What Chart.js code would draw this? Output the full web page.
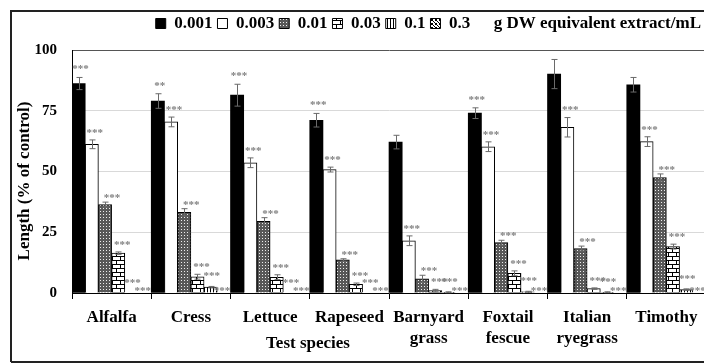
<!DOCTYPE html>
<html>
<head>
<meta charset="utf-8">
<script src="https://cdn.jsdelivr.net/npm/chart.js@4.4.1/dist/chart.umd.min.js"></script>
<style>
  html, body { margin: 0; padding: 0; overflow: hidden; background: #fff; }
  #wrap { position: relative; width: 712px; height: 363px; }
</style>
</head>
<body>
<div id="wrap"><canvas id="grafico"></canvas></div>
<script>
const species = ['Alfalfa', 'Cress', 'Lettuce', 'Rapeseed', ['Barnyard', 'grass'], ['Foxtail', 'fescue'], ['Italian', 'ryegrass'], 'Timothy'];
const doses = ['0.001', '0.003', '0.01', '0.03', '0.1', '0.3'];
const unitText = 'g DW equivalent extract/mL';
const yTicks = [0, 25, 50, 75, 100];

// mean length (% of control) per dose
const len0001 = [86.2, 79.0, 81.4, 71.1, 62.1, 74.0, 90.1, 85.7];
const len0003 = [61.2, 70.4, 53.6, 50.8, 21.5, 60.2, 68.2, 62.3];
const len001 = [36.4, 33.2, 29.5, 13.6, 5.8, 20.7, 18.3, 47.5];
const len003 = [16.4, 6.7, 6.5, 3.6, 1.0, 8.1, 1.8, 19.1];
const len01 = [0, 2.4, 0, 0, 0.3, 0.5, 0.3, 1.4];
const len03 = [0, 0, 0, 0, 0, 0, 0, 0];

// standard errors
const err0001 = [2.5, 3.0, 4.5, 2.8, 2.8, 2.2, 6.0, 3.0];
const err0003 = [1.8, 2.0, 2.0, 1.0, 2.0, 2.0, 4.0, 2.0];
const err001 = [1.0, 1.5, 1.5, 0.5, 1.5, 1.0, 1.0, 1.5];
const err003 = [0.5, 1.0, 1.0, 0.5, 0.5, 1.0, 0.3, 1.0];
const err01 = [0, 0.3, 0, 0, 0.2, 0.2, 0.2, 0.3];
const err03 = [0, 0, 0, 0, 0, 0, 0, 0];

// significance marks
const sig0001 = ['***', '**', '***', '***', '', '***', '', ''];
const sig0003 = ['***', '***', '***', '***', '***', '***', '***', '***'];
const sig001 = ['***', '***', '***', '***', '***', '***', '***', '***'];
const sig003 = ['***', '***', '***', '***', '***', '***', '***', '***'];
const sig01 = ['***', '***', '***', '***', '***', '***', '***', '***'];
const sig03 = ['***', '***', '***', '***', '***', '***', '***', '***'];

const serif = 'Liberation Serif';

function makePattern(w, h, bg, draw) {
  const c = document.createElement('canvas');
  c.width = w; c.height = h;
  const p = c.getContext('2d');
  p.fillStyle = bg;
  p.fillRect(0, 0, w, h);
  p.fillStyle = '#000';
  draw(p);
  return c.getContext('2d').createPattern(c, 'repeat');
}

const dotPat = makePattern(3, 3, '#585858', p => { p.fillStyle = '#eeeeee'; p.fillRect(1, 1, 1, 1); });
const brickPat = makePattern(8, 8, '#fff', p => {
  p.fillRect(0, 0, 8, 1); p.fillRect(0, 4, 8, 1);
  p.fillRect(0, 0, 1, 4); p.fillRect(4, 4, 1, 4);
});
const stripePat = makePattern(3, 1, '#fff', p => { p.fillRect(0, 0, 1, 1); });
const checkPat = makePattern(4, 4, '#fff', p => {
  p.fillRect(0, 0, 1, 1); p.fillRect(1, 1, 1, 1); p.fillRect(2, 2, 1, 1); p.fillRect(3, 3, 1, 1);
  p.fillRect(3, 0, 1, 1); p.fillRect(0, 3, 1, 1);
});

const series = [
  { values: len0001, errors: err0001, sig: sig0001, fill: '#000', border: 0 },
  { values: len0003, errors: err0003, sig: sig0003, fill: '#fff', border: 1 },
  { values: len001, errors: err001, sig: sig001, fill: dotPat, border: 1 },
  { values: len003, errors: err003, sig: sig003, fill: brickPat, border: 1 },
  { values: len01, errors: err01, sig: sig01, fill: stripePat, border: 1 },
  { values: len03, errors: err03, sig: sig03, fill: checkPat, border: 1 }
];
const starDx = [2, 3, 7, 4, 1, -2];
const starDy = [11, 10, 7, 10, 13, 5];

const extras = {
  id: 'extras',
  afterInit(chart) {
    // push the plot down below the legend a little
    const fit = chart.legend.fit;
    chart.legend.fit = function () {
      fit.call(this);
      this.height += 8;
    };
  },
  afterDatasetsDraw(chart) {
    const ctx = chart.ctx;
    const y = chart.scales.y;
    ctx.save();
    series.forEach((s, i) => {
      chart.getDatasetMeta(i).data.forEach((bar, j) => {
        const v = s.values[j], e = s.errors[j];
        const x = Math.round(bar.x) + 0.5;
        const top = y.getPixelForValue(v + e);
        if (e > 0) {
          const bot = y.getPixelForValue(v - e);
          ctx.strokeStyle = '#6a6a6a';
          ctx.lineWidth = 1;
          ctx.beginPath();
          ctx.moveTo(x, top); ctx.lineTo(x, bot);
          ctx.moveTo(x - 3, top); ctx.lineTo(x + 3, top);
          ctx.moveTo(x - 3, bot); ctx.lineTo(x + 3, bot);
          ctx.stroke();
        }
        if (s.sig[j]) {
          ctx.fillStyle = '#808080';
          ctx.font = 'bold 11px "' + serif + '"';
          ctx.textAlign = 'center';
          ctx.textBaseline = 'middle';
          ctx.fillText(s.sig[j], bar.x + starDx[i], top - starDy[i] + 3);
        }
      });
    });
    ctx.restore();
  },
  afterDraw(chart) {
    const ctx = chart.ctx;
    ctx.save();
    // outer frame
    ctx.strokeStyle = '#222';
    ctx.lineWidth = 2;
    ctx.beginPath();
    ctx.moveTo(11, 362); ctx.lineTo(11, 11); ctx.lineTo(chart.width, 11);
    ctx.moveTo(11, 362); ctx.lineTo(chart.width, 362);
    ctx.stroke();
    // axis titles
    ctx.fillStyle = '#000';
    ctx.font = 'bold 17px "' + serif + '"';
    ctx.textAlign = 'center';
    ctx.textBaseline = 'middle';
    ctx.fillText('Test species', 308, 344);
    ctx.translate(25, 181);
    ctx.rotate(-Math.PI / 2);
    ctx.fillText('Length (% of control)', 0, 0);
    ctx.restore();
  }
};

new Chart(document.getElementById('grafico'), {
  type: 'bar',
  data: {
    labels: species,
    datasets: series.map((s, i) => ({
      label: doses[i],
      data: s.values,
      backgroundColor: s.fill,
      borderColor: '#000',
      borderWidth: s.border,
      barPercentage: 1,
      categoryPercentage: 1
    }))
  },
  options: {
    responsive: true,
    maintainAspectRatio: false,
    animation: false,
    layout: { padding: { left: 10, right: 6, top: 10, bottom: 0 } },
    plugins: {
      tooltip: { enabled: false },
      legend: {
        position: 'top',
        align: 'end',
        labels: {
          boxWidth: 10,
          boxHeight: 10,
          padding: 5,
          color: '#000',
          font: { family: serif, size: 17, weight: 'bold' },
          generateLabels(chart) {
            const items = chart.data.datasets.map((ds, i) => ({
              text: ds.label,
              fillStyle: ds.backgroundColor,
              strokeStyle: '#000',
              lineWidth: 1,
              hidden: false,
              datasetIndex: i
            }));
            items.push({ text: unitText, fillStyle: 'rgba(0,0,0,0)', strokeStyle: 'rgba(0,0,0,0)', lineWidth: 0, hidden: false });
            return items;
          }
        }
      }
    },
    scales: {
      x: {
        afterFit(scale) { scale.height = 70; },
        grid: { offset: true, drawOnChartArea: false, drawTicks: true, tickLength: 6, color: '#000' },
        border: { color: '#000', width: 1 },
        ticks: {
          autoSkip: false, maxRotation: 0, minRotation: 0, padding: 8, color: '#000',
          font: { family: serif, size: 17, weight: 'bold', lineHeight: 1.25 }
        }
      },
      y: {
        min: 0,
        max: 100,
        afterFit(scale) { scale.width = 62; },
        afterBuildTicks(scale) { scale.ticks = yTicks.map(v => ({ value: v })); },
        grid: {
          drawTicks: false,
          color: ctx => (ctx.tick && ctx.tick.value === 100 ? '#555' : '#d9d9d9')
        },
        border: { color: '#000', width: 1 },
        ticks: {
          padding: 15, color: '#000',
          font: { family: serif, size: 15, weight: 'bold' }
        }
      }
    }
  },
  plugins: [extras]
});
</script>
</body>
</html>
